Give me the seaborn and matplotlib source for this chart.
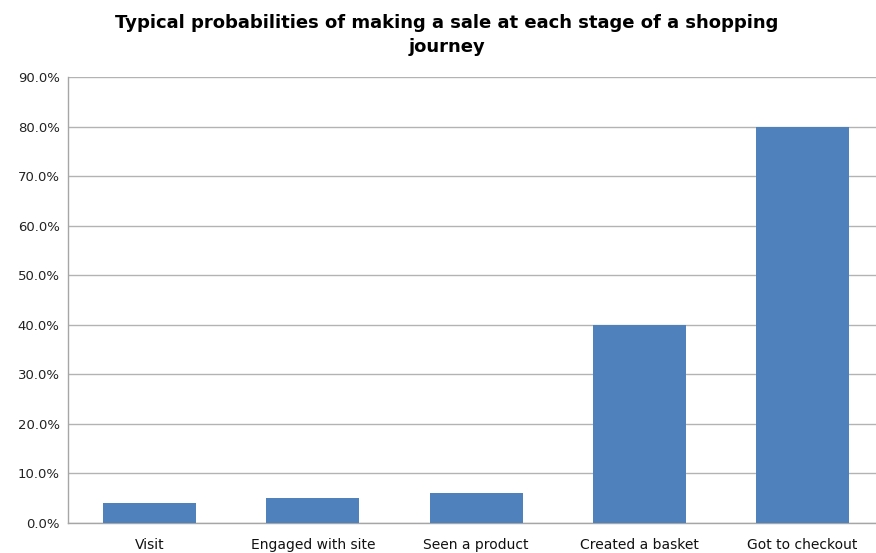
import matplotlib
matplotlib.use("Agg")
import matplotlib.pyplot as plt
import matplotlib.ticker as mticker
import pandas as pd
import seaborn as sns

stages = ["Visit", "Engaged with site", "Seen a product", "Created a basket", "Got to checkout"]
probabilities = [0.04, 0.05, 0.06, 0.40, 0.80]

df = pd.DataFrame({"stage": stages, "probability": probabilities})

sns.set_style("white")
plt.rcParams["font.family"] = ["DejaVu Sans"]

fig = plt.figure(figsize=(8.76, 5.53), dpi=100)
ax = fig.add_axes([68 / 876, 30 / 553, (876 - 68) / 876, 446 / 553])

sns.barplot(data=df, x="stage", y="probability", color="#4F81BD",
            saturation=1, width=0.57, linewidth=0, ax=ax, zorder=3)

ax.set_ylim(0, 0.9)
ax.set_xlim(-0.5, 4.45)
ax.yaxis.set_major_locator(mticker.MultipleLocator(0.1))
ax.yaxis.set_major_formatter(mticker.FuncFormatter(lambda v, p: f"{v * 100:.1f}%"))
ax.grid(axis="y", color="#b3b3b3", linewidth=1, zorder=0)
ax.set_xlabel("")
ax.set_ylabel("")

for side in ["top", "right"]:
    ax.spines[side].set_visible(False)
for side in ["left", "bottom"]:
    ax.spines[side].set_color("#a6a6a6")
    ax.spines[side].set_linewidth(1)

ax.tick_params(axis="x", length=0, pad=11, labelsize=10, colors="#111111")
ax.tick_params(axis="y", length=0, pad=6, labelsize=9.5, colors="#222222")

fig.suptitle("Typical probabilities of making a sale at each stage of a shopping\njourney",
             x=0.51, y=0.975, fontsize=13, fontweight="bold", linespacing=1.45,
             color="#000000")

fig.savefig("out.png", dpi=100)
